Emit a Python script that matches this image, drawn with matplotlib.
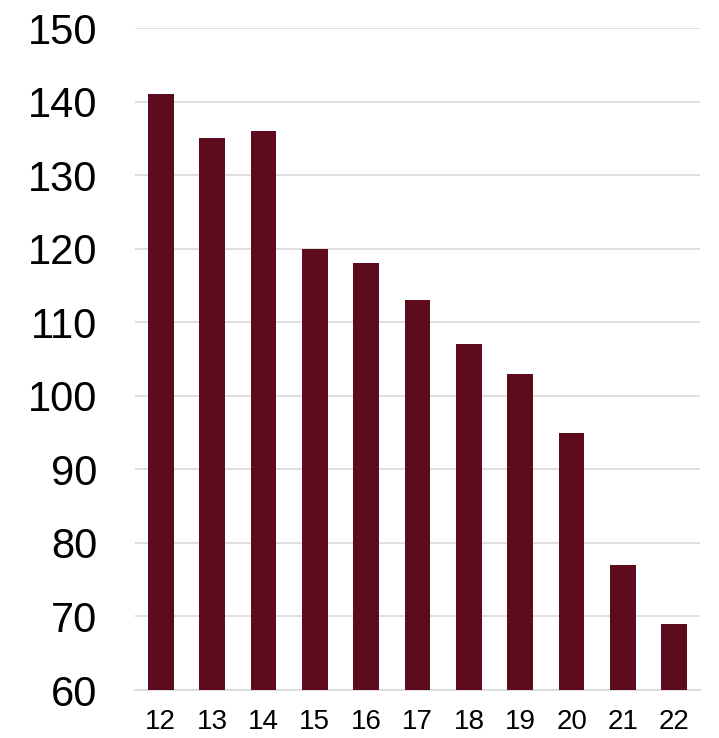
import matplotlib
matplotlib.use("Agg")
import matplotlib.pyplot as plt

plt.rcParams['font.family'] = ['Liberation Sans', 'DejaVu Sans']

categories = ['12', '13', '14', '15', '16', '17', '18', '19', '20', '21', '22']
values = [141, 135, 136, 120, 118, 113, 107, 103, 95, 77, 69]

fig = plt.figure(figsize=(7.19, 7.38), dpi=100)
ax = fig.add_axes([0.1878, 0.065, 0.7858, 0.897])

x = range(len(categories))
ax.bar(x, values, width=0.5, color='#5E0B1E', zorder=3)

ax.set_ylim(60, 150)
ax.set_yticks(range(60, 151, 10))
ax.set_xlim(-0.5, len(categories) - 0.5)
ax.set_xticks(list(x))
ax.set_xticklabels(categories)

ax.grid(axis='y', color='#D9D9D9', linewidth=1.2, zorder=0)
for s in ['top', 'right', 'left']:
    ax.spines[s].set_visible(False)
ax.spines['bottom'].set_color('#D9D9D9')
ax.spines['bottom'].set_linewidth(1.2)

ax.tick_params(axis='y', length=0, labelsize=30, pad=27)
ax.tick_params(axis='x', length=0, labelsize=20, pad=14)

fig.savefig('out.png', dpi=100)
